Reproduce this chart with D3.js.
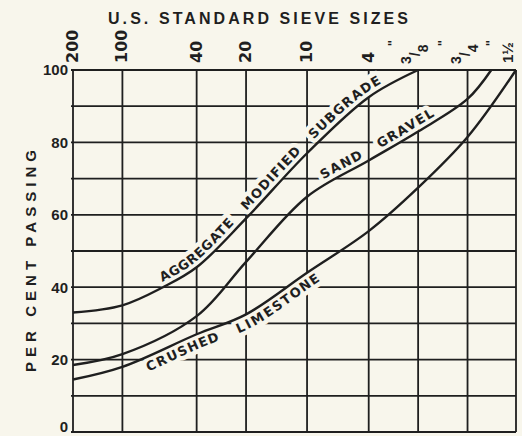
<!DOCTYPE html>
<html>
<head>
<meta charset="utf-8">
<script src="https://cdn.jsdelivr.net/npm/d3@7"></script>
<style>
  html, body { margin: 0; padding: 0; background: #f8f6ec; }
  svg { display: block; }
</style>
</head>
<body>
<svg id="chart" width="522" height="436"></svg>
<script>
// Sieve openings (mm) marked on the top axis, with their U.S. standard names
const sieveSizes  = [0.075, 0.15, 0.425, 0.85, 2.0, 4.75, 9.5, 19.0, 37.5];
const sieveLabels = ["200", "100", "40", "20", "10", "4", "3/8", "3/4", "1½"];
const inchSieve   = [false, false, false, false, false, false, true, true, true];

// Grading curves: grain size (mm) and per cent passing
const aggregateSizes    = [0.075, 0.15, 0.265, 0.425, 0.85, 2.0, 4.75, 9.5];
const aggregateSubgrade = [33, 35, 40, 45.5, 59, 77, 92.5, 100];
const sandGravelSizes   = [0.075, 0.15, 0.425, 0.85, 2.0, 4.75, 9.5, 19.0, 26.5];
const sandGravel        = [18.5, 21.5, 32, 47, 65, 75, 83, 92, 100];
const limestoneSizes    = [0.075, 0.15, 0.425, 0.85, 2.0, 4.75, 9.5, 19.0, 37.5];
const crushedLimestone  = [14.5, 18, 27, 32.5, 44, 55.5, 67.5, 81.5, 100];

const curveNames  = ["AGGREGATE   MODIFIED   SUBGRADE", "SAND   GRAVEL", "CRUSHED   LIMESTONE"];
const curveSizes  = [aggregateSizes, sandGravelSizes, limestoneSizes];
const curveValues = [aggregateSubgrade, sandGravel, crushedLimestone];
const labelStartSize = [0.27, 2.6, 0.2];    // grain size where each name begins
const labelSpacing = [1.0, 1.4, 1.4];       // letter spacing of each name
const labelSide = [-5, -5, 14];             // offset of the name from its curve

const percentTicks = [0, 20, 40, 60, 80, 100];
const percentGrid = d3.range(0, 101, 10);

const ink = "#1f1f1f";
const paper = "#f8f6ec";

const svg = d3.select("#chart");

const x = d3.scaleLog().domain([0.075, 37.5]).range([73, 516]);
const y = d3.scaleLinear().domain([0, 100]).range([432, 70]);

// Grid
const grid = svg.append("g").attr("stroke", ink).attr("stroke-width", 1.8).attr("fill", "none");
grid.selectAll("line.h").data(percentGrid).join("line")
  .attr("class", "h")
  .attr("x1", x.range()[0] - 2).attr("x2", x.range()[1])
  .attr("y1", d => y(d)).attr("y2", d => y(d));
grid.selectAll("line.v").data(sieveSizes).join("line")
  .attr("class", "v")
  .attr("x1", d => x(d)).attr("x2", d => x(d))
  .attr("y1", y(0)).attr("y2", y(100));

// Left axis values
svg.append("g")
  .attr("font-family", "Liberation Sans, Arial, sans-serif")
  .attr("font-weight", "bold").attr("font-size", 15).attr("fill", ink)
  .selectAll("text").data(percentTicks).join("text")
  .attr("x", 68).attr("y", d => Math.min(y(d), y(0) - 5)).attr("dy", "0.36em")
  .attr("text-anchor", "end")
  .text(d => d);

// Top axis: sieve designations, set sideways above each grid line
const topAxis = svg.append("g")
  .attr("font-weight", "bold").attr("fill", ink);

sieveSizes.forEach((s, i) => {
  const gx = x(s);
  const label = sieveLabels[i];
  if (label.includes("/")) {
    const [num, den] = label.split("/");
    const t = topAxis.append("text")
      .attr("transform", `translate(${gx + 2},64) rotate(-90)`)
      .attr("font-family", "Liberation Sans, Arial, sans-serif")
      .attr("font-size", 14);
    t.append("tspan").attr("dy", -9).text(num);
    t.append("tspan").attr("dy", 9).text("/");
    t.append("tspan").attr("dy", 8).text(den);
  } else if (inchSieve[i]) {
    topAxis.append("text")
      .attr("transform", `translate(${gx - 3},63) rotate(-90)`)
      .attr("font-family", "Liberation Sans, Arial, sans-serif")
      .attr("font-size", 15)
      .text(label);
  } else {
    topAxis.append("text")
      .attr("transform", `translate(${gx + 5},63) rotate(-90)`)
      .attr("font-family", "DejaVu Sans, sans-serif")
      .attr("font-size", 16)
      .text(label);
  }
  if (inchSieve[i]) {
    topAxis.append("text")
      .attr("transform", `translate(${gx - 21},43) rotate(-90)`)
      .attr("font-family", "DejaVu Sans, sans-serif")
      .attr("font-size", 13)
      .attr("text-anchor", "middle")
      .text("\"");
  }
});

// Titles
svg.append("text")
  .attr("x", 108).attr("y", 24)
  .attr("font-family", "Liberation Sans, Arial, sans-serif")
  .attr("font-weight", "bold").attr("font-size", 16).attr("fill", ink)
  .attr("textLength", 300).attr("lengthAdjust", "spacing")
  .text("U.S. STANDARD SIEVE SIZES");

svg.append("text")
  .attr("transform", "translate(36,372) rotate(-90)")
  .attr("font-family", "Liberation Sans, Arial, sans-serif")
  .attr("font-weight", "bold").attr("font-size", 15).attr("fill", ink)
  .attr("textLength", 222).attr("lengthAdjust", "spacing")
  .text("PER CENT PASSING");

// Grading curves
const line = d3.line()
  .x(d => x(d[0])).y(d => y(d[1]))
  .curve(d3.curveCatmullRom.alpha(0.5));

const curves = svg.append("g").attr("fill", "none").attr("stroke", ink).attr("stroke-width", 2.4);
const paths = curveValues.map((vals, i) =>
  curves.append("path")
    .attr("id", "curve" + i)
    .attr("d", line(curveSizes[i].map((s, j) => [s, vals[j]])))
    .node());

function lengthAtX(node, targetX) {
  let lo = 0, hi = node.getTotalLength();
  for (let k = 0; k < 40; k++) {
    const mid = (lo + hi) / 2;
    if (node.getPointAtLength(mid).x < targetX) lo = mid; else hi = mid;
  }
  return lo;
}

// Curve names set along each curve: a paper-coloured halo first clears the
// grid, then the lettering itself is drawn on top
function addNames(layer, halo) {
  curveNames.forEach((name, i) => {
    layer.append("text")
      .attr("dy", labelSide[i])
      .attr("letter-spacing", labelSpacing[i])
      .attr("fill", halo ? "none" : ink)
      .attr("stroke", halo ? paper : "none")
      .attr("stroke-width", halo ? 9 : 0)
      .attr("stroke-linejoin", "round")
      .append("textPath")
      .attr("href", "#curve" + i)
      .attr("startOffset", lengthAtX(paths[i], x(labelStartSize[i])))
      .attr("xml:space", "preserve")
      .style("white-space", "pre")
      .text(name);
  });
}

const nameHalo = svg.insert("g", () => curves.node())
  .attr("font-family", "DejaVu Sans, sans-serif")
  .attr("font-weight", "bold").attr("font-size", 13);
const nameText = svg.insert("g", () => curves.node())
  .attr("font-family", "DejaVu Sans, sans-serif")
  .attr("font-weight", "bold").attr("font-size", 13);
addNames(nameHalo, true);
addNames(nameText, false);
</script>
</body>
</html>
